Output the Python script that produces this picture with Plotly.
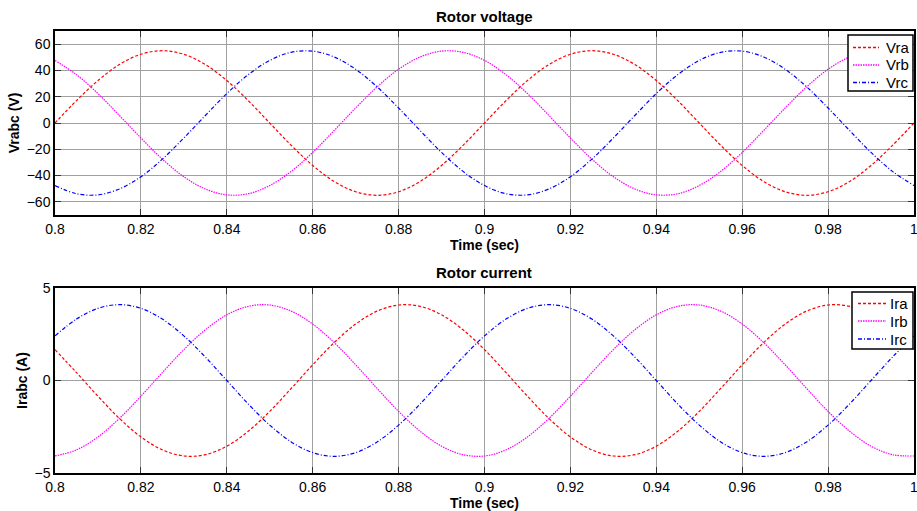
import plotly.graph_objects as go

# time samples (sec)
t = [round(0.8 + 0.005 * k, 3) for k in range(41)]

# Rotor voltage (V)
vra_cycle = [0, 17.0, 32.3, 44.5, 52.3, 55, 52.3, 44.5, 32.3, 17.0,
             0, -17.0, -32.3, -44.5, -52.3, -55, -52.3, -44.5, -32.3, -17.0]
vrb_cycle = [47.6, 36.8, 22.4, 5.7, -11.4, -27.5, -40.9, -50.2, -54.7, -53.8,
             -47.6, -36.8, -22.4, -5.7, 11.4, 27.5, 40.9, 50.2, 54.7, 53.8]
vrc_cycle = [-47.6, -53.8, -54.7, -50.2, -40.9, -27.5, -11.4, 5.7, 22.4, 36.8,
             47.6, 53.8, 54.7, 50.2, 40.9, 27.5, 11.4, -5.7, -22.4, -36.8]

# Rotor current (A)
ira_cycle = [1.67, 0.43, -0.85, -2.05, -3.05, -3.75, -4.08, -4.01, -3.55, -2.74,
             -1.67, -0.43, 0.85, 2.05, 3.05, 3.75, 4.08, 4.01, 3.55, 2.74]
irb_cycle = [-4.08, -3.75, -3.05, -2.05, -0.85, 0.43, 1.67, 2.74, 3.55, 4.01,
             4.08, 3.75, 3.05, 2.05, 0.85, -0.43, -1.67, -2.74, -3.55, -4.01]
irc_cycle = [2.41, 3.32, 3.90, 4.1, 3.90, 3.32, 2.41, 1.27, 0, -1.27,
             -2.41, -3.32, -3.90, -4.1, -3.90, -3.32, -2.41, -1.27, 0, 1.27]

Vra = vra_cycle * 2 + vra_cycle[:1]
Vrb = vrb_cycle * 2 + vrb_cycle[:1]
Vrc = vrc_cycle * 2 + vrc_cycle[:1]
Ira = ira_cycle * 2 + ira_cycle[:1]
Irb = irb_cycle * 2 + irb_cycle[:1]
Irc = irc_cycle * 2 + irc_cycle[:1]

x_ticks = [0.8, 0.82, 0.84, 0.86, 0.88, 0.9, 0.92, 0.94, 0.96, 0.98, 1.0]
x_labels = ["0.8", "0.82", "0.84", "0.86", "0.88", "0.9", "0.92", "0.94", "0.96", "0.98", "1"]
v_ticks = [-60, -40, -20, 0, 20, 40, 60]
i_ticks = [-5, 0, 5]

FONT = "Liberation Sans, Arial, sans-serif"
W, H = 917, 511

RED, MAG, BLUE = "#ff0000", "#ff00ff", "#0000ff"
DASH, DOT, DASHDOT = "3px,2px", "1.5px,1px", "4px,2px,1px,2px"

fig = go.Figure()

def add(x, y, name, color, dash, xa, ya):
    fig.add_trace(go.Scatter(
        x=x, y=y, name=name, mode="lines", showlegend=False,
        line=dict(color=color, dash=dash, width=1.2, shape="spline"),
        xaxis=xa, yaxis=ya))

add(t, Vra, "Vra", RED, DASH, "x", "y")
add(t, Vrb, "Vrb", MAG, DOT, "x", "y")
add(t, Vrc, "Vrc", BLUE, DASHDOT, "x", "y")
add(t, Ira, "Ira", RED, DASH, "x2", "y2")
add(t, Irb, "Irb", MAG, DOT, "x2", "y2")
add(t, Irc, "Irc", BLUE, DASHDOT, "x2", "y2")

xl, xr = 55 / W, 914 / W
top_dom = [1 - 215 / H, 1 - 31 / H]
bot_dom = [1 - 473 / H, 1 - 288 / H]

axis_common = dict(showline=True, linecolor="black", linewidth=1.5, mirror="allticks",
                   ticks="inside", ticklen=6, tickcolor="#333", tickwidth=1,
                   showgrid=True, gridcolor="#a0a0a0", gridwidth=1, zeroline=False,
                   ticklabeloverflow="allow", automargin=False,
                   tickfont=dict(family=FONT, size=14, color="black"))

xcommon = dict(axis_common, range=[0.8, 1.0], tickvals=x_ticks, ticktext=x_labels,
               domain=[xl, xr])

# manual legends (pixel geometry)
def px(x):
    return x / W

def py(y):
    return 1 - y / H

shapes = []
annotations = [
    dict(text="<b>Rotor voltage</b>", x=(xl + xr) / 2, y=py(16), xref="paper", yref="paper",
         showarrow=False, font=dict(size=15), xanchor="center", yanchor="middle"),
    dict(text="<b>Rotor current</b>", x=(xl + xr) / 2, y=py(272), xref="paper", yref="paper",
         showarrow=False, font=dict(size=15), xanchor="center", yanchor="middle"),
]

def legend(box, line_x, text_x, rows, names, styles):
    x0, y0, x1, y1 = box
    shapes.append(dict(type="rect", xref="paper", yref="paper",
                       x0=px(x0), x1=px(x1), y0=py(y0), y1=py(y1),
                       line=dict(color="black", width=1.5), fillcolor="white", layer="above"))
    for ry, nm, (c, d) in zip(rows, names, styles):
        shapes.append(dict(type="line", xref="paper", yref="paper",
                           x0=px(line_x[0]), x1=px(line_x[1]), y0=py(ry), y1=py(ry),
                           line=dict(color=c, width=1.5, dash=d), layer="above"))
        annotations.append(dict(text=nm, x=px(text_x), y=py(ry), xref="paper", yref="paper",
                                showarrow=False, xanchor="left", yanchor="middle",
                                font=dict(size=15, color="black")))

styles = [(RED, DASH), (MAG, DOT), (BLUE, DASHDOT)]
legend((848, 35, 913, 91), (853, 879), 884, [47.5, 65, 82.5], ["Vra", "Vrb", "Vrc"], styles)
legend((852, 292, 913, 349), (858, 886), 888, [303.5, 321, 339], ["Ira", "Irb", "Irc"], styles)

fig.update_layout(
    width=W, height=H,
    margin=dict(l=0, r=0, t=0, b=0),
    paper_bgcolor="white", plot_bgcolor="white",
    font=dict(family=FONT, color="black"),
    showlegend=False,
    xaxis=dict(xcommon, anchor="y",
               title=dict(text="<b>Time (sec)</b>", font=dict(size=14), standoff=0)),
    yaxis=dict(axis_common, range=[-70, 70], tickvals=v_ticks, domain=top_dom, anchor="x",
               title=dict(text="<b>Vrabc (V)</b>", font=dict(size=14), standoff=4)),
    xaxis2=dict(xcommon, anchor="y2",
                title=dict(text="<b>Time (sec)</b>", font=dict(size=14), standoff=0)),
    yaxis2=dict(axis_common, range=[-5, 5], tickvals=i_ticks, domain=bot_dom, anchor="x2",
                title=dict(text="<b>Irabc (A)</b>", font=dict(size=14), standoff=4)),
    shapes=shapes,
    annotations=annotations,
)

fig.write_html("out.html")
